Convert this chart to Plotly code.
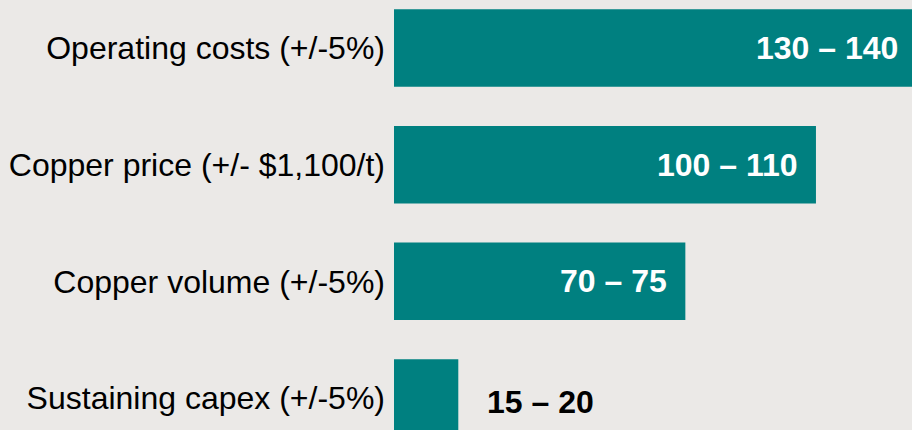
import plotly.graph_objects as go

# Sensitivity items (top to bottom)
categories = ['Operating costs (+/-5%)', 'Copper price (+/- $1,100/t)',
              'Copper volume (+/-5%)', 'Sustaining capex (+/-5%)']
bar_values = [135, 105, 72.5, 16]
range_labels = ['130 – 140', '100 – 110', '70 – 75', '15 – 20']
label_inside = [True, True, True, False]

TEAL = '#008080'
BG = '#EBE9E7'
FONT = 'Arial, Liberation Sans, sans-serif'
X_MAX = 128.9

positions = list(range(len(categories)))

fig = go.Figure()
fig.add_trace(go.Bar(
    x=bar_values,
    y=positions,
    orientation='h',
    width=0.664,
    marker=dict(color=TEAL, line=dict(width=0)),
    hoverinfo='skip'
))

# value range labels
annotations = []
for pos, val, txt, inside in zip(positions, bar_values, range_labels, label_inside):
    if inside:
        # first bar runs past the edge, so its label sits a bit closer to it
        shift = -12 if val > X_MAX else -16
        annotations.append(dict(
            x=min(val, X_MAX), y=pos, xref='x', yref='y',
            text='<b>' + txt + '</b>', showarrow=False,
            xanchor='right', xshift=shift,
            font=dict(size=32, color='white', family=FONT)
        ))
    else:
        annotations.append(dict(
            x=val, y=pos, xref='x', yref='y',
            text='<b>' + txt + '</b>', showarrow=False,
            xanchor='left', xshift=27, yshift=-4,
            font=dict(size=32, color='black', family=FONT)
        ))

fig.update_layout(
    width=912, height=430,
    margin=dict(l=394, r=0, t=0, b=0),
    paper_bgcolor=BG, plot_bgcolor=BG,
    showlegend=False,
    annotations=annotations,
    xaxis=dict(range=[0, X_MAX], visible=False, fixedrange=True),
    yaxis=dict(
        range=[3.274, -0.411],
        tickmode='array', tickvals=positions, ticktext=categories,
        ticks='', showgrid=False, zeroline=False, showline=False,
        ticklabelstandoff=8,
        tickfont=dict(size=32, color='black', family=FONT),
        fixedrange=True
    )
)

fig.write_html(
    "out.html",
    config={'displayModeBar': False},
    post_script="document.body.style.margin='0';document.body.style.background='#EBE9E7';"
)
